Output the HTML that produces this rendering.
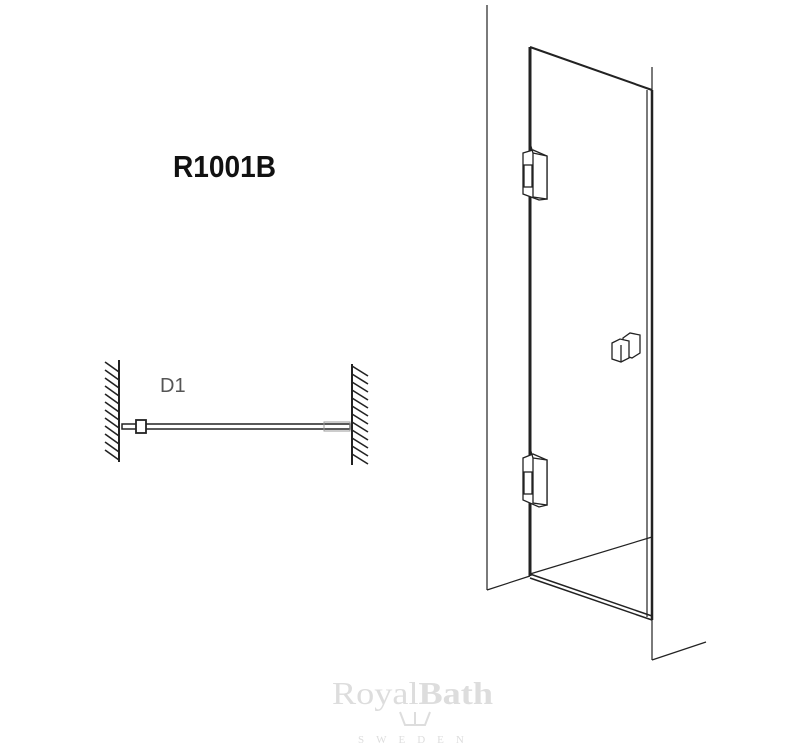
<!DOCTYPE html>
<html><head><meta charset="utf-8"><style>
html,body{margin:0;padding:0;background:#fff;}
svg{display:block;}
</style></head><body>
<svg width="800" height="750" viewBox="0 0 800 750" xmlns="http://www.w3.org/2000/svg">
<rect width="800" height="750" fill="#fff"/>
<text x="173" y="177" font-family="Liberation Sans, sans-serif" font-weight="bold" font-size="31" textLength="103" lengthAdjust="spacingAndGlyphs" fill="#111">R1001B</text>

<!-- plan view -->
<g stroke="#222" fill="none">
<line x1="119" y1="360" x2="119" y2="462" stroke-width="2"/>
<line x1="352" y1="364" x2="352" y2="465" stroke-width="2"/>
</g>
<g stroke="#222" stroke-width="1.6">
<line x1="105" y1="362" x2="119" y2="372"/><line x1="105" y1="370" x2="119" y2="380"/>
<line x1="105" y1="378" x2="119" y2="388"/><line x1="105" y1="386" x2="119" y2="396"/>
<line x1="105" y1="394" x2="119" y2="404"/><line x1="105" y1="402" x2="119" y2="412"/>
<line x1="105" y1="410" x2="119" y2="420"/><line x1="105" y1="418" x2="119" y2="428"/>
<line x1="105" y1="426" x2="119" y2="436"/><line x1="105" y1="434" x2="119" y2="444"/>
<line x1="105" y1="442" x2="119" y2="452"/><line x1="105" y1="450" x2="119" y2="460"/>
<line x1="352" y1="366" x2="368" y2="376"/><line x1="352" y1="374" x2="368" y2="384"/>
<line x1="352" y1="382" x2="368" y2="392"/><line x1="352" y1="390" x2="368" y2="400"/>
<line x1="352" y1="398" x2="368" y2="408"/><line x1="352" y1="406" x2="368" y2="416"/>
<line x1="352" y1="414" x2="368" y2="424"/><line x1="352" y1="422" x2="368" y2="432"/>
<line x1="352" y1="430" x2="368" y2="440"/><line x1="352" y1="438" x2="368" y2="448"/>
<line x1="352" y1="446" x2="368" y2="456"/><line x1="352" y1="454" x2="368" y2="464"/>
</g>
<text x="160" y="392" font-family="Liberation Sans, sans-serif" font-size="20" fill="#555">D1</text>
<rect x="122" y="424" width="228" height="5" fill="none" stroke="#222" stroke-width="1.5"/>
<rect x="136" y="420" width="10" height="13" fill="#fff" stroke="#222" stroke-width="1.8"/>
<rect x="324" y="422" width="26" height="9" fill="none" stroke="#999" stroke-width="1"/>

<!-- elevation -->
<g stroke="#222" fill="none" stroke-width="1.2">
<line x1="487" y1="5" x2="487" y2="590"/>
<line x1="487" y1="590" x2="530" y2="576"/>
<line x1="652" y1="67" x2="652" y2="660"/>
<line x1="652" y1="660" x2="706" y2="642"/>
<line x1="530" y1="574" x2="652" y2="537"/>
<line x1="647" y1="90" x2="647" y2="617"/>
</g>
<g stroke="#222" fill="none">
<line x1="530" y1="47" x2="530" y2="576" stroke-width="3"/>
<line x1="530" y1="47" x2="652" y2="90" stroke-width="2"/>
<line x1="652" y1="90" x2="652" y2="620" stroke-width="2.5"/>
<line x1="530" y1="574" x2="652" y2="616" stroke-width="1.5"/>
<line x1="530" y1="578" x2="652" y2="620" stroke-width="1.5"/>
</g>
<!-- hinges -->
<g stroke="#222" fill="#fff" stroke-width="1.3">
<polygon points="523,153 533,150 547,156 547,199 539,200 523,194"/>
<polygon points="533,153 547,156 547,199 533,197"/>
<rect x="524" y="165" width="8" height="22"/>
<line x1="530" y1="143" x2="533" y2="153"/>
<polygon points="523,458 533,454 547,460 547,505 539,507 523,500"/>
<polygon points="533,458 547,460 547,505 533,503"/>
<rect x="524" y="472" width="8" height="22"/>
<line x1="530" y1="448" x2="533" y2="458"/>
<!-- handle -->
<polygon points="623,338 630,333 640,335 640,353 632,358 623,355"/>
<polygon points="612,343 620,339 629,341 629,358 621,362 612,359"/>
<line x1="621" y1="345" x2="621" y2="362"/>
</g>

<!-- logo -->
<text x="332" y="704" font-family="Liberation Serif, serif" font-size="32" fill="#ddd" textLength="161" lengthAdjust="spacingAndGlyphs">Royal<tspan font-weight="bold">Bath</tspan></text>
<path d="M400 712 L405 725 L425 725 L430 712 M415 712 L415 725" stroke="#ddd" stroke-width="2" fill="none"/>
<text x="358" y="743" font-family="Liberation Serif, serif" font-size="11" fill="#ddd" letter-spacing="12">SWEDEN</text>
</svg>
</body></html>
